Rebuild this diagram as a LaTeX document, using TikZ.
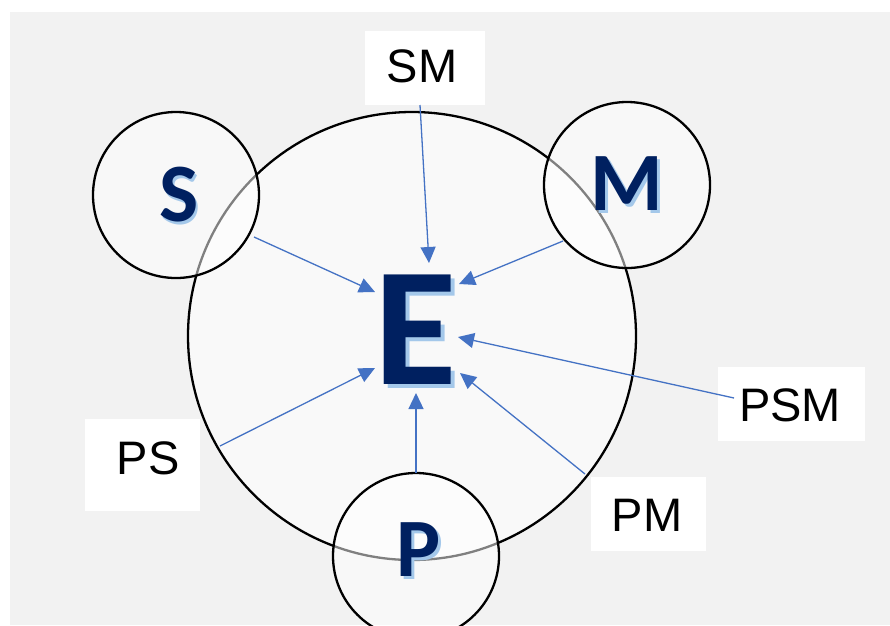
\documentclass[tikz,border=0pt]{standalone}
\usepackage{fontspec}
\setmainfont{Liberation Sans}
\newfontfamily\letterfont{Carlito}
\usetikzlibrary{arrows.meta}
\definecolor{bggray}{HTML}{F2F2F2}
\definecolor{bigfill}{HTML}{F9F9F9}
\definecolor{navy}{HTML}{002060}
\definecolor{shade}{HTML}{A4C8EA}
\definecolor{arrowblue}{HTML}{4472C4}
\newcommand{\shadowed}[2]{\rlap{\hspace*{#1}\raisebox{-#1}{\color{shade}#2}}#2}
\tikzset{
  bigcircle/.style={circle, draw=black, line width=2.3pt, fill=bigfill, inner sep=0pt, minimum size=448pt},
  smallcircle/.style={circle, draw=black, line width=2.3pt, fill=white, fill opacity=0.5, draw opacity=1, inner sep=0pt, minimum size=166pt},
  bigletter/.style={inner sep=0pt, text=navy, font=\letterfont\bfseries\fontsize{169}{169}\selectfont},
  smallletter/.style={inner sep=0pt, text=navy, font=\letterfont\bfseries\fontsize{83}{83}\selectfont},
  lbox/.style={fill=white, draw=none, inner sep=0pt},
  ltext/.style={inner sep=0pt, text=black, font=\fontsize{47}{56}\selectfont},
  conn/.style={draw=arrowblue, line width=1.3pt, -{Triangle[length=16pt,width=15pt]}}
}
\begin{document}
\begin{tikzpicture}[x=1pt,y=-1pt]
\useasboundingbox (0,0) rectangle (890,625);
\fill[white] (0,0) rectangle (890,625);
\fill[bggray] (10,12) rectangle (890,625);

% main circle
\node[bigcircle] (big) at (412,336) {};

% small circles
\node[smallcircle] (cS) at (176,195) {};
\node[smallcircle] (cM) at (627,185) {};
\node[smallcircle] (cP) at (416,556) {};

% label boxes
\node[lbox, minimum width=120pt, minimum height=74pt] (smbox) at (425,68) {};
\node[lbox, minimum width=115pt, minimum height=92pt] (psbox) at (142.5,465) {};
\node[lbox, minimum width=147pt, minimum height=74pt] (psmbox) at (791.5,404) {};
\node[lbox, minimum width=115pt, minimum height=74pt] (pmbox) at (648.5,514) {};

\node[ltext] (smt) at (422,66) {SM};
\node[ltext] (pst) at (148,458) {PS};
\node[ltext] (psmt) at (790,405) {PSM};
\node[ltext] (pmt) at (647,515) {PM};

% connector end points
\coordinate (aSM) at (420,105);
\coordinate (tSM) at (429,263);
\coordinate (aS) at (254,237);
\coordinate (tS) at (375,292);
\coordinate (aM) at (563,241);
\coordinate (tM) at (459,284);
\coordinate (aPS) at (220,446);
\coordinate (tPS) at (375,368);
\coordinate (aP) at (416,473);
\coordinate (tP) at (416,393);
\coordinate (aPM) at (585,474);
\coordinate (tPM) at (460,373);
\coordinate (aPSM) at (734,398);
\coordinate (tPSM) at (458,337);

\draw[conn] (aSM) -- (tSM);
\draw[conn] (aS) -- (tS);
\draw[conn] (aM) -- (tM);
\draw[conn] (aPS) -- (tPS);
\draw[conn] (aP) -- (tP);
\draw[conn] (aPM) -- (tPM);
\draw[conn] (aPSM) -- (tPSM);

% letters (with light shadow)
\node[bigletter] (E) at (416,332) {\shadowed{4pt}{E}};
\node[smallletter] (S) at (179,196) {\shadowed{2.5pt}{S}};
\node[smallletter] (M) at (627,185) {\shadowed{2.5pt}{M}};
\node[smallletter] (P) at (419,551) {\shadowed{2.5pt}{P}};
\end{tikzpicture}
\end{document}
